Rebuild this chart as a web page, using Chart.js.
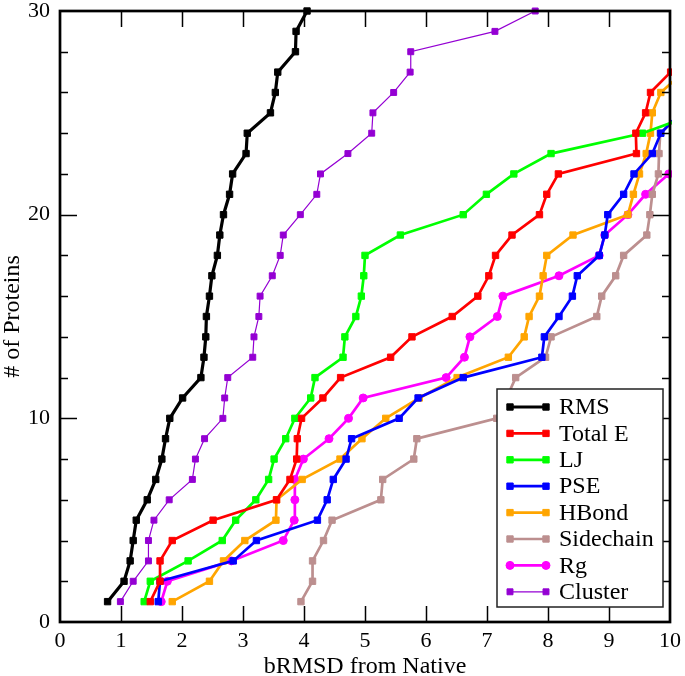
<!DOCTYPE html>
<html>
<head>
<meta charset="utf-8">
<script src="https://cdn.jsdelivr.net/npm/chart.js@4.4.1/dist/chart.umd.min.js"></script>
<style>
  body { margin: 0; background: #fff; }
  #wrap { width: 685px; height: 676px; }
</style>
</head>
<body>
<div id="wrap"><canvas id="rmsdChart" width="685" height="676"></canvas></div>
<script>
// number of proteins (y) for each point, in order
const proteinCount = [1, 2, 3, 4, 5, 6, 7, 8, 9, 10, 11, 12, 13, 14, 15, 16, 17, 18, 19, 20, 21, 22, 23, 24, 25, 26, 27, 28, 29, 30];

// bRMSD values (x) per scoring function
const rmsX = [0.78, 1.05, 1.15, 1.2, 1.25, 1.43, 1.57, 1.67, 1.73, 1.8, 2.01, 2.31, 2.36, 2.39, 2.4, 2.45, 2.49, 2.58, 2.62, 2.68, 2.78, 2.83, 3.05, 3.07, 3.45, 3.53, 3.57, 3.86, 3.87, 4.05];
const totalEX = [1.48, 1.64, 1.64, 1.84, 2.51, 3.55, 3.77, 3.88, 3.89, 3.96, 4.31, 4.6, 5.42, 5.77, 6.43, 6.85, 7.03, 7.14, 7.41, 7.86, 7.98, 8.17, 9.45, 9.44, 9.6, 9.68, 10.01];
const ljX = [1.38, 1.48, 2.1, 2.66, 2.88, 3.21, 3.42, 3.51, 3.7, 3.85, 4.11, 4.18, 4.64, 4.67, 4.85, 4.94, 4.98, 5.0, 5.58, 6.61, 6.99, 7.44, 8.05, 9.55, 10.47];
const pseX = [1.61, 1.64, 2.84, 3.22, 4.22, 4.38, 4.48, 4.69, 4.78, 5.56, 5.87, 6.61, 7.9, 7.94, 8.18, 8.4, 8.48, 8.84, 8.93, 8.98, 9.24, 9.41, 9.71, 9.85, 10.17];
const hbondX = [1.84, 2.45, 2.68, 3.03, 3.54, 3.55, 3.97, 4.59, 4.95, 5.34, 5.89, 6.51, 7.35, 7.61, 7.69, 7.86, 7.92, 7.98, 8.41, 9.31, 9.4, 9.5, 9.61, 9.68, 9.71, 9.85, 10.22];
const sidechainX = [3.95, 4.14, 4.14, 4.32, 4.46, 5.26, 5.29, 5.8, 5.85, 7.16, 7.32, 7.47, 7.96, 8.05, 8.8, 8.88, 9.11, 9.24, 9.62, 9.67, 9.71, 9.81, 9.82, 9.84, 10.2];
const rgX = [1.66, 1.76, 2.81, 3.66, 3.84, 3.85, 3.85, 3.99, 4.41, 4.73, 4.97, 6.33, 6.63, 6.72, 7.17, 7.26, 8.18, 8.84, 8.93, 9.31, 9.6, 9.98];
const clusterX = [0.99, 1.2, 1.45, 1.45, 1.54, 1.79, 2.17, 2.22, 2.37, 2.67, 2.7, 2.75, 3.16, 3.18, 3.26, 3.28, 3.48, 3.61, 3.66, 3.94, 4.21, 4.27, 4.72, 5.11, 5.13, 5.47, 5.74, 5.75, 7.13, 7.79];

const xTicks = [0, 1, 2, 3, 4, 5, 6, 7, 8, 9, 10];
const yTicks = [0, 10, 20, 30];
const yMinorTicks = [2, 4, 6, 8, 12, 14, 16, 18, 22, 24, 26, 28];

const serif = '"Liberation Serif", "Times New Roman", serif';

function toPoints(xs) {
    return xs.map((x, i) => ({ x: x, y: proteinCount[i] }));
}

function series(label, xs, color, width, style, radius) {
    return {
        label: label,
        data: toPoints(xs),
        showLine: true,
        borderColor: color,
        backgroundColor: color,
        borderWidth: width,
        pointStyle: style,
        pointRadius: radius,
        pointBorderWidth: 1,
        pointBackgroundColor: color,
        pointBorderColor: color,
        tension: 0,
        clip: { left: 8, top: 8, right: 2, bottom: 8 }
    };
}

// frame with inward ticks, like the xmgrace original
const framePlugin = {
    id: 'frame',
    afterDatasetsDraw(chart) {
        const { ctx, chartArea: a, scales } = chart;
        ctx.save();
        ctx.strokeStyle = '#000';
        ctx.lineWidth = 1.5;
        ctx.beginPath();
        xTicks.slice(1, -1).forEach(v => {
            const px = Math.round(scales.x.getPixelForValue(v)) + 0.5;
            ctx.moveTo(px, a.bottom); ctx.lineTo(px, a.bottom - 16);
            ctx.moveTo(px, a.top); ctx.lineTo(px, a.top + 16);
        });
        yMinorTicks.forEach(v => {
            const py = Math.round(scales.y.getPixelForValue(v)) + 0.5;
            ctx.moveTo(a.left, py); ctx.lineTo(a.left + 8, py);
            ctx.moveTo(a.right, py); ctx.lineTo(a.right - 8, py);
        });
        yTicks.slice(1, -1).forEach(v => {
            const py = Math.round(scales.y.getPixelForValue(v)) + 0.5;
            ctx.moveTo(a.left, py); ctx.lineTo(a.left + 17, py);
            ctx.moveTo(a.right, py); ctx.lineTo(a.right - 17, py);
        });
        ctx.stroke();
        ctx.lineWidth = 2.7;
        ctx.strokeRect(a.left, a.top, a.right - a.left, a.bottom - a.top);
        ctx.restore();
    },
    afterDraw(chart) {
        // legend box inside the plot
        const ctx = chart.ctx;
        const box = { x: 497, y: 389, w: 166, h: 218 };
        ctx.save();
        ctx.fillStyle = '#fff';
        ctx.fillRect(box.x, box.y, box.w, box.h);
        ctx.strokeStyle = '#222';
        ctx.lineWidth = 1.5;
        ctx.strokeRect(box.x, box.y, box.w, box.h);
        ctx.font = '24px ' + serif;
        ctx.textBaseline = 'middle';
        chart.data.datasets.forEach((ds, i) => {
            const y = 407 + i * 26.4;
            ctx.strokeStyle = ds.borderColor;
            ctx.fillStyle = ds.borderColor;
            ctx.lineWidth = ds.borderWidth;
            ctx.beginPath();
            ctx.moveTo(510, y); ctx.lineTo(546, y);
            ctx.stroke();
            ctx.lineWidth = 1;
            const opts = { pointStyle: ds.pointStyle, radius: ds.pointRadius, borderWidth: 1, rotation: 0 };
            Chart.helpers.drawPoint(ctx, opts, 510, y);
            Chart.helpers.drawPoint(ctx, opts, 546, y);
            ctx.fillStyle = '#000';
            ctx.fillText(ds.label, 559, y + 1);
        });
        ctx.restore();
    }
};

const ctx = document.getElementById('rmsdChart').getContext('2d');
const rmsdChart = new Chart(ctx, {
    type: 'scatter',
    data: {
        datasets: [
            series('RMS', rmsX, '#000000', 3.2, 'rect', 4.5),
            series('Total E', totalEX, '#ff0000', 2.7, 'rect', 4.5),
            series('LJ', ljX, '#00ff00', 2.7, 'rect', 4.5),
            series('PSE', pseX, '#0000ff', 2.7, 'rect', 4.5),
            series('HBond', hbondX, '#ffa500', 2.7, 'rect', 4.5),
            series('Sidechain', sidechainX, '#bc8f8f', 2.7, 'rect', 4.5),
            series('Rg', rgX, '#ff00ff', 2.7, 'circle', 4),
            series('Cluster', clusterX, '#9400d3', 1.2, 'rect', 4.2)
        ]
    },
    options: {
        responsive: false,
        animation: false,
        layout: { padding: { top: 11, right: 15, left: 0, bottom: 0 } },
        plugins: {
            legend: { display: false },
            tooltip: { enabled: false }
        },
        scales: {
            x: {
                type: 'linear',
                min: 0,
                max: 10,
                afterBuildTicks: scale => { scale.ticks = xTicks.map(v => ({ value: v })); },
                ticks: { color: '#000', font: { family: serif, size: 22 }, padding: 6, maxRotation: 0 },
                grid: { display: false, drawTicks: false },
                border: { display: false },
                title: {
                    display: true,
                    text: 'bRMSD from Native',
                    color: '#000',
                    font: { family: serif, size: 24, lineHeight: 0.8 },
                    padding: 0
                },
                afterFit: scale => {
                    scale.height = 54;
                    scale.paddingLeft = 0;
                    scale.paddingRight = 0;
                }
            },
            y: {
                type: 'linear',
                min: 0,
                max: 30,
                afterBuildTicks: scale => { scale.ticks = yTicks.map(v => ({ value: v })); },
                ticks: { color: '#000', font: { family: serif, size: 22 }, padding: 10 },
                grid: { display: false, drawTicks: false },
                border: { display: false },
                title: {
                    display: true,
                    text: '# of Proteins',
                    color: '#000',
                    font: { family: serif, size: 24, lineHeight: 1 },
                    padding: { top: 1, bottom: 0 }
                },
                afterFit: scale => {
                    scale.width = 60;
                    scale.paddingTop = 0;
                    scale.paddingBottom = 0;
                }
            }
        }
    },
    plugins: [framePlugin]
});
</script>
</body>
</html>
